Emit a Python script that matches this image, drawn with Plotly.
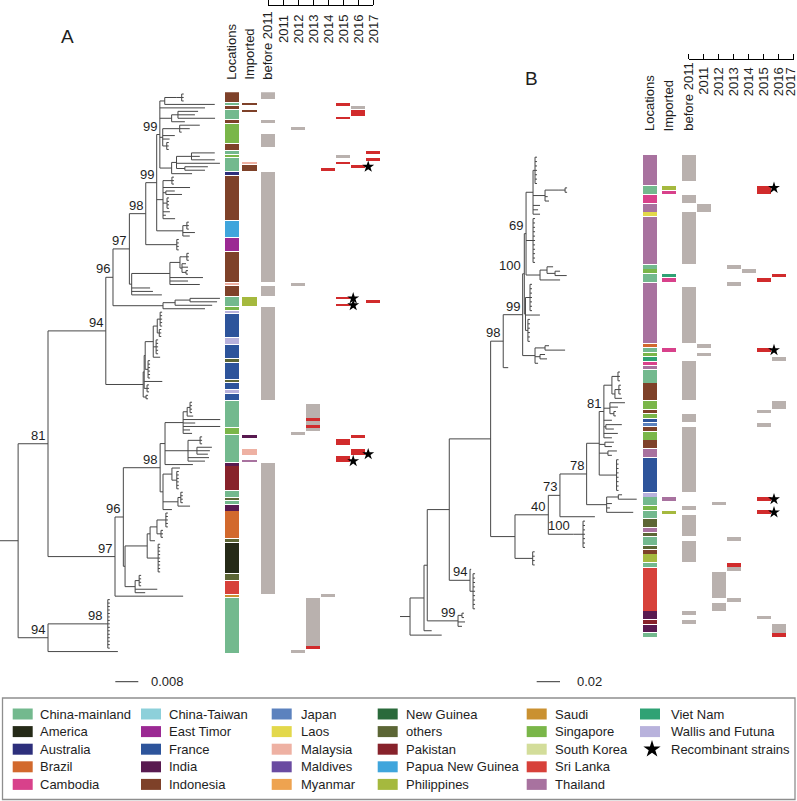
import plotly.graph_objects as go

W, H = 797, 801
FONT = "Liberation Sans, Arial, Helvetica, sans-serif"
TXT = "#1e1e1e"
TREE_COLOR = "#474747"

# ---------------- legend / colours ----------------
LEGEND_NAMES = ["China-mainland", "America", "Australia", "Brazil", "Cambodia",
                "China-Taiwan", "East Timor", "France", "India", "Indonesia",
                "Japan", "Laos", "Malaysia", "Maldives", "Myanmar",
                "New Guinea", "others", "Pakistan", "Papua New Guinea", "Philippines",
                "Saudi", "Singapore", "South Korea", "Sri Lanka", "Thailand",
                "Viet Nam", "Wallis and Futuna"]
LEGEND_COLORS = ["#73b98e", "#252a17", "#2d2f7b", "#d2692d", "#d8418b",
                 "#8dd0da", "#9b2993", "#2d549b", "#581a50", "#7e4129",
                 "#5c82be", "#e3d84b", "#eeb1a3", "#6a4ba1", "#eea350",
                 "#2a6a3b", "#5c6635", "#87222b", "#3fa5dc", "#a5b93e",
                 "#ca9131", "#7ab649", "#d3dd9a", "#d7413a", "#a8729f",
                 "#2fa274", "#b8b2dc"]
STAR_LABEL = "Recombinant strains"
GRAY = "#b9b1ae"
RED = "#d12b2c"

YEAR_LABELS = ["before 2011", "2011", "2012", "2013", "2014", "2015", "2016", "2017"]
STRIP_LABELS = ["Locations", "Imported"]

# ---------------- panel A data ----------------
A_LOC_NAMES = ["Indonesia", "China-mainland", "Indonesia", "China-mainland", "Indonesia", "Singapore",
               "Indonesia", "China-mainland", "Singapore", "China-mainland", "Australia", "Indonesia",
               "Papua New Guinea", "East Timor", "Indonesia", "Malaysia", "Indonesia", "China-mainland",
               "Singapore", "Wallis and Futuna", "France", "Wallis and Futuna", "France", "others",
               "France", "others", "France", "Wallis and Futuna", "France", "China-mainland",
               "Singapore", "China-mainland", "India", "Pakistan", "China-mainland", "others",
               "China-mainland", "India", "Brazil", "others", "America", "others", "Sri Lanka",
               "Saudi", "China-mainland"]
A_LOC_COUNTS = [3, 1, 1, 3, 1, 6, 2, 1, 1, 4, 1, 13, 5, 4, 9, 1, 3, 3, 1, 1, 7, 2, 4, 1, 5, 1, 2, 1, 2,
                8, 2, 8, 1, 7, 2, 1, 1, 2, 8, 1, 9, 2, 4, 1, 16]
A_IMP_ROWS = [3, 5, 20, 21, 59, 99, 103, 106]
A_IMP_COUNTS = [1, 1, 1, 2, 3, 1, 2, 1]
A_IMP_NAMES = ["Indonesia", "Indonesia", "Malaysia", "Indonesia", "Philippines", "India", "Malaysia", "Thailand"]
# year columns: 0 = before 2011, 1 = 2011 ... 7 = 2017
A_GRAY_COL = [0, 0, 0, 0, 0, 0, 0, 2, 2, 2, 2, 3, 3, 4, 5, 6]
A_GRAY_ROW = [0, 8, 12, 23, 56, 62, 107, 10, 55, 98, 161, 90, 146, 145, 18, 4]
A_GRAY_N = [2, 1, 4, 32, 3, 27, 38, 1, 1, 1, 1, 8, 14, 1, 1, 1]
A_RED_COL = [3, 3, 3, 4, 5, 5, 5, 5, 5, 5, 5, 5, 6, 6, 6, 6, 6, 7, 7, 7]
A_RED_ROW = [94, 96, 160, 22, 3, 7, 20, 59, 61, 100, 105, 106, 5, 21, 99, 103, 104, 17, 19, 60]
A_RED_N = [1, 1, 1, 1, 1, 1, 1, 1, 1, 2, 1, 1, 2, 1, 1, 1, 1, 1, 1, 1]
A_STAR_ROW = [21, 59, 61, 104, 106]
A_STAR_COL = [6, 5, 5, 6, 5]

# tree A: node = [branch length (1e-3 subst./site), bootstrap, *children];
# float = single tip; (branch length, n) = tight cluster of n tips
A_N1 = [1.7, None, [4.2, None, (1.7, 3)], 17.4]
A_N2 = [4.1, None, [2.2, None, 7.0, 5.9, 12.9], 4.6]
A_N3 = [1.0, None, [5.9, None, 7.0, 3.5, 0.7], 4.2, 2.4, (1.4, 3)]
A_CMRED = [4.1, None, [1.7, None, [5.2, None, 8.1, 2.9, 8.1], 15.1, [2.9, None, 8.0, 7.0]], 7.1]
A_99U = [1.1, "99", A_N1, 15.7, A_N2, A_N3, A_CMRED]
A_IDN1 = [2.2, None, (3.1, 3), 9.4, [1.0, None, 3.1, 5.6], (1.4, 4), 2.4, 1.0, 4.2]
A_PNG = [9.1, None, (1.4, 3), 4.2, 2.4]
A_99L = [3.8, "99", A_99U, A_IDN1, A_PNG]
A_98 = [5.7, "98", A_99L, (10.8, 4)]
A_IDN2 = [13.3, None, [3.5, None, [1.0, None, (1.4, 3)], [0.7, None, 1.4, 2.1, (1.4, 2)]], 11.5, 6.3, 10.4]
A_L97 = [0.8, None, A_IDN2, 6.4, 7.4, 10.5]
A_97 = [5.7, "97", A_98, A_L97]
A_N163 = [17.4, None, [4.2, None, [5.2, None, 10.4, 9.4], 12.9], 14.6]
A_96 = [2.5, "96", A_97, A_N163]
A_FRA = [13.0, None,
         [0.35, None,
          [0.35, None, [2.8, None, [1.4, None, (1.0, 5), (0.7, 3)], (1.0, 5), 2.4], (1.0, 6)],
          6.3, (1.0, 3)],
         (1.0, 2)]
A_94A = [20.1, "94", A_96, A_FRA]
A_CMC = [1.7, None,
         [6.3, None, [1.4, None, (1.0, 4), 2.1], 12.9, 4.2, 12.9, 2.4, 3.1],
         [8.0, None, (4.2, 3), [3.1, None, 5.2, 4.5, 3.8], 7.3, 5.9],
         9.7]
A_PAK = [1.0, None, [3.1, None, 2.8, (1.7, 6)], [5.2, None, (1.0, 4), 4.2], 3.1]
A_98B = [12.8, "98", A_CMC, A_PAK]
A_BRA = [1.0, None, [2.4, None, [2.1, None, (1.0, 5)], (1.4, 3)], 1.7]
A_N147 = [7.7, None, A_BRA, (3.8, 9)]
A_N135 = [3.5, None, (1.4, 4), 7.7, 3.5]
A_L = [0.6, None, A_N147, A_N135]
A_96B = [2.9, "96", A_98B, A_L]
A_97B = [23.3, "97", A_96B, 23.7]
A_81 = [10.4, "81", A_94A, A_97B]
A_94B = [10.4, "94", [19.8, "98", (1.0, 15)], 24.3]
A_TREE = [6.3, None, A_81, A_94B]
A_SCALE = 8.0          # 0.008
A_SCALE_TEXT = "0.008"

# ---------------- panel B data ----------------
B_LOC_NAMES = ["Thailand", "China-mainland", "Cambodia", "Thailand", "Laos", "Thailand", "China-mainland",
               "Singapore", "China-mainland", "Thailand", "Brazil", "China-mainland", "Singapore", "Viet Nam",
               "Cambodia", "Thailand", "China-mainland", "Indonesia", "Singapore", "Indonesia", "Singapore",
               "France", "Japan", "Indonesia", "Singapore", "Indonesia", "Thailand", "France",
               "Wallis and Futuna", "China-mainland", "Singapore", "China-mainland", "others", "Thailand",
               "others", "China-mainland", "others", "Indonesia", "Philippines", "China-mainland",
               "Sri Lanka", "India", "Pakistan", "India", "China-mainland"]
B_LOC_COUNTS = [7, 2, 2, 2, 1, 11, 1, 1, 2, 14, 1, 1, 1, 1, 1, 1, 3, 4, 2, 1, 1, 1, 1, 1, 2, 2, 2, 8, 1,
                2, 1, 2, 2, 1, 1, 2, 1, 1, 2, 1, 10, 2, 1, 2, 1]
B_IMP_ROWS = [7, 8, 27, 28, 44, 78, 81]
B_IMP_COUNTS = [1, 1, 1, 1, 1, 1, 1]
B_IMP_NAMES = ["Philippines", "Cambodia", "Viet Nam", "Cambodia", "Cambodia", "Thailand", "Philippines"]
B_GRAY_COL = [0, 0, 0, 0, 0, 0, 0, 0, 0, 0, 0, 0, 1, 1, 1, 2, 2, 2, 3, 3, 3, 3, 3, 4, 5, 5, 5, 6, 6, 6]
B_GRAY_ROW = [0, 9, 13, 30, 47, 59, 62, 80, 82, 88, 104, 106, 11, 43, 45, 79, 95, 102, 25, 29, 87, 94, 101,
              26, 58, 61, 105, 46, 56, 107]
B_GRAY_N = [6, 2, 12, 13, 9, 2, 15, 1, 5, 5, 1, 1, 2, 1, 1, 1, 6, 2, 1, 1, 1, 1, 1, 1, 1, 1, 1, 1, 2, 2]
B_RED_COL = [3, 5, 5, 5, 5, 5, 5, 6, 6]
B_RED_ROW = [93, 7, 8, 28, 44, 78, 81, 27, 109]
B_RED_N = [1, 1, 1, 1, 1, 1, 1, 1, 1]
B_STAR_ROW = [7, 44, 78, 81]
B_STAR_COL = [5, 5, 5, 5]

B_NT = [6.0, None, (1.7, 7), [10.3, None, [11.2, None, (6.0, 2)], 2.3, 3.4], 6.0, 4.3, 6.0]
B_LADDER1 = [12.0, None, [6.0, None, 5.2, [6.9, None, 4.3, 10.0]], 17.2]
B_69 = [1.5, "69", B_NT, (6.0, 11), B_LADDER1]
B_N525 = [1.0, None, (3.9, 7), 12.4, (2.1, 6)]
B_100 = [1.4, "100", B_69, B_N525]
B_LADDER2 = [10.6, None, [8.6, None, 3.4, 17.2], [4.3, None, 4.3, 6.0], 2.6]
B_99 = [16.7, "99", B_100, B_LADDER2]
B_98 = [10.8, "98", B_99, 4.3]
B_81 = [4.0, "81", [6.9, None, (5.2, 3), [2.6, None, (3.4, 3), 6.0]], [5.2, None, 12.9, 6.9, (3.4, 2)],
        6.9, [1.7, None, 13.7, 6.9], 12.0, 6.9]
B_N598 = [10.8, None, B_81, [4.9, None, 7.7, 6.0], [7.5, None, 7.7, 3.4], (14.9, 8)]
B_N607 = [17.2, None, [10.0, None, 3.2, 15.8], 4.5, 2.8, 22.8]
B_78 = [22.9, "78", B_N598, B_N607]
B_73 = [10.0, "73", B_78, 30.0]
B_40 = [28.6, "40", B_73, [21.5, "100", (8.3, 7)]]
B_N515 = [20.9, None, B_40, (15.2, 4)]
B_N490 = [35.5, None, B_98, B_N515]
B_94 = [17.8, "94", 1.0, (2.6, 9)]
B_N449 = [18.9, None, B_N490, B_94]
B_99B = [26.4, "99", (3.4, 2), 6.0, 3.4]
B_N427 = [2.8, None, B_N449, B_99B]
B_N424 = [12.0, None, B_N427, 6.6]
B_TREE = [8.6, None, B_N424, 27.2]
B_SCALE = 20.0         # 0.02
B_SCALE_TEXT = "0.02"

# ---------------- layout constants (pixels) ----------------
COL_STEP = 15.0
PANELS = {
    "A": dict(tree_px=(0, 226), px_per_unit=2.875, rows_px=(92.3, 653.3),
              col_px=(218, 392), col0=268.0, loc_px=232.0, imp_px=249.5, strip_w=14.5,
              axis_y=5.0, hdr_bottom=81.7, year_top=13.0, last_shift=0,
              scale_px=115.3, scale_y=681.7, scale_gap=10.5, label_xy=(67.7, 36.7),
              ax=("x", "y", "x2", "x3")),
    "B": dict(tree_px=(400, 640), px_per_unit=1.165, rows_px=(155.0, 637.3),
              col_px=(636, 797), col0=688.8, loc_px=650.0, imp_px=668.9, strip_w=14.5,
              axis_y=59.3, hdr_bottom=133.0, year_top=65.0, last_shift=-3,
              scale_px=536.7, scale_y=681.7, scale_gap=14.5, label_xy=(531.7, 78.0),
              ax=("x4", "y2", "x5", "x6")),
}


def fx(p):
    return p / W


def fy(p):
    return 1 - p / H


def layout_tree(tree, tick):
    xs, ys, labels = [], [], []
    counter = [0]

    def seg(x0, y0, x1, y1):
        xs.extend([x0, x1, None])
        ys.extend([y0, y1, None])

    def walk(node, px):
        if isinstance(node, (int, float)):
            r = counter[0]
            counter[0] += 1
            seg(px, r, px + node, r)
            return r
        if isinstance(node, tuple):
            bl, n = node
            r0 = counter[0]
            counter[0] += n
            x = px + bl
            yc = r0 + (n - 1) / 2
            seg(px, yc, x, yc)
            seg(x, r0, x, r0 + n - 1)
            for r in range(r0, r0 + n):
                seg(x, r, x + tick, r)
            return yc
        bl, label = node[0], node[1]
        kids = node[2:]
        x = px + bl
        cy = [walk(k, x) for k in kids]
        yc = (cy[0] + cy[-1]) / 2
        if len(cy) > 1:
            seg(x, cy[0], x, cy[-1])
        seg(px, yc, x, yc)
        if label:
            labels.append((x, yc, label))
        return yc

    walk(tree, 0.0)
    return xs, ys, labels, counter[0]


COLOR = dict(zip(LEGEND_NAMES, LEGEND_COLORS))
fig = go.Figure()
annotations = []
shapes = []
layout_axes = {}

panel_data = {
    "A": dict(tree=A_TREE, loc_names=A_LOC_NAMES, loc_counts=A_LOC_COUNTS,
              imp_rows=A_IMP_ROWS, imp_counts=A_IMP_COUNTS, imp_names=A_IMP_NAMES,
              gray=(A_GRAY_COL, A_GRAY_ROW, A_GRAY_N), red=(A_RED_COL, A_RED_ROW, A_RED_N),
              stars=(A_STAR_COL, A_STAR_ROW), scale=A_SCALE, scale_text=A_SCALE_TEXT),
    "B": dict(tree=B_TREE, loc_names=B_LOC_NAMES, loc_counts=B_LOC_COUNTS,
              imp_rows=B_IMP_ROWS, imp_counts=B_IMP_COUNTS, imp_names=B_IMP_NAMES,
              gray=(B_GRAY_COL, B_GRAY_ROW, B_GRAY_N), red=(B_RED_COL, B_RED_ROW, B_RED_N),
              stars=(B_STAR_COL, B_STAR_ROW), scale=B_SCALE, scale_text=B_SCALE_TEXT),
}

for key, P in PANELS.items():
    D = panel_data[key]
    xt, yr, xc, xs_ax = P["ax"]
    ppu = P["px_per_unit"]
    nrows = sum(D["loc_counts"])
    pitch = (P["rows_px"][1] - P["rows_px"][0]) / nrows

    # --- tree ---
    txs, tys, labels, ntips = layout_tree(D["tree"], 2.0 / ppu)
    assert ntips == nrows, (key, ntips, nrows)
    fig.add_trace(go.Scatter(x=txs, y=tys, mode="lines", line=dict(color=TREE_COLOR, width=1),
                             xaxis=xt, yaxis=yr, hoverinfo="skip", showlegend=False))
    for (x, y, lab) in labels:
        annotations.append(dict(x=x, y=y, xref=xt, yref=yr, text=lab, showarrow=False,
                                xanchor="right", yanchor="bottom", xshift=-1, yshift=-1,
                                font=dict(size=13, color=TXT, family=FONT)))

    # --- columns ---
    def colx(px):
        return (px - P["col0"]) / COL_STEP

    gap_strip = 0.9 / pitch
    starts, s = [], 0
    for c in D["loc_counts"]:
        starts.append(s)
        s += c
    fig.add_trace(go.Bar(x=[colx(P["loc_px"])] * len(starts),
                         y=[c - gap_strip for c in D["loc_counts"]],
                         base=[st - 0.5 + gap_strip / 2 for st in starts],
                         width=P["strip_w"] / COL_STEP,
                         marker=dict(color=[COLOR[n] for n in D["loc_names"]], line=dict(width=0)),
                         xaxis=xc, yaxis=yr, hoverinfo="skip", showlegend=False))
    fig.add_trace(go.Bar(x=[colx(P["imp_px"])] * len(D["imp_rows"]),
                         y=[c - gap_strip for c in D["imp_counts"]],
                         base=[st - 0.5 + gap_strip / 2 for st in D["imp_rows"]],
                         width=P["strip_w"] / COL_STEP,
                         marker=dict(color=[COLOR[n] for n in D["imp_names"]], line=dict(width=0)),
                         xaxis=xc, yaxis=yr, hoverinfo="skip", showlegend=False))
    gap_bar = 0.6 / pitch
    for (cols, rows, ns), color in ((D["gray"], GRAY), (D["red"], RED)):
        fig.add_trace(go.Bar(x=list(cols), y=[n - gap_bar for n in ns],
                             base=[r - 0.5 + gap_bar / 2 for r in rows],
                             width=14.0 / COL_STEP,
                             marker=dict(color=color, line=dict(width=0)),
                             xaxis=xc, yaxis=yr, hoverinfo="skip", showlegend=False))
    scol, srow = D["stars"]
    fig.add_trace(go.Scatter(x=[c + 0.68 for c in scol], y=list(srow), mode="markers",
                             marker=dict(symbol="star", size=9, color="black", line=dict(width=0)),
                             xaxis=xc, yaxis=yr, hoverinfo="skip", showlegend=False))
    # invisible trace so the year scale axis is drawn
    fig.add_trace(go.Scatter(x=[0], y=[0], mode="markers", marker=dict(opacity=0),
                             xaxis=xs_ax, yaxis=yr, hoverinfo="skip", showlegend=False))

    # headers
    for lab, px in zip(STRIP_LABELS, (P["loc_px"], P["imp_px"])):
        annotations.append(dict(x=colx(px), y=fy(P["hdr_bottom"]), xref=xc, yref="paper", text=lab,
                                showarrow=False, textangle=-90, xanchor="center", yanchor="bottom",
                                font=dict(size=13, color=TXT, family=FONT)))
    for i, lab in enumerate(YEAR_LABELS):
        if i == 0:
            yy, ya = fy(P["hdr_bottom"]), "bottom"
        else:
            yy, ya = fy(P["year_top"]), "top"
        annotations.append(dict(x=i, y=yy, xref=xs_ax, yref="paper", text=lab, showarrow=False,
                                textangle=-90, xanchor="center", yanchor=ya,
                                xshift=P["last_shift"] if i == len(YEAR_LABELS) - 1 else 0,
                                font=dict(size=13, color=TXT, family=FONT)))

    # scale bar
    sx0 = (P["scale_px"] - P["tree_px"][0]) / ppu
    shapes.append(dict(type="line", xref=xt, yref="paper", x0=sx0, x1=sx0 + D["scale"],
                       y0=fy(P["scale_y"]), y1=fy(P["scale_y"]), line=dict(color="#333", width=1)))
    annotations.append(dict(x=sx0 + D["scale"] + P["scale_gap"] / ppu, y=fy(P["scale_y"]), xref=xt,
                            yref="paper", text=D["scale_text"], showarrow=False, xanchor="left",
                            yanchor="middle", font=dict(size=13, color=TXT, family=FONT)))
    # panel letter
    lx, ly = P["label_xy"]
    annotations.append(dict(x=fx(lx), y=fy(ly), xref="paper", yref="paper", text=key, showarrow=False,
                            xanchor="center", yanchor="middle", font=dict(size=19, color=TXT, family=FONT)))

    # axes
    tw = P["tree_px"][1] - P["tree_px"][0]
    hidden = dict(visible=False, showgrid=False, zeroline=False, fixedrange=True)
    layout_axes[("xaxis" + xt[1:]) if xt != "x" else "xaxis"] = dict(
        domain=[fx(P["tree_px"][0]), fx(P["tree_px"][1])], range=[0, tw / ppu], anchor=yr, **hidden)
    layout_axes[("yaxis" + yr[1:]) if yr != "y" else "yaxis"] = dict(
        domain=[fy(P["rows_px"][1]), fy(P["rows_px"][0])], range=[nrows - 0.5, -0.5], anchor=xt, **hidden)
    layout_axes["xaxis" + xc[1:]] = dict(
        domain=[fx(P["col_px"][0]), fx(P["col_px"][1])],
        range=[colx(P["col_px"][0]), colx(P["col_px"][1])], anchor=yr, **hidden)
    layout_axes["xaxis" + xs_ax[1:]] = dict(
        domain=[fx(P["col0"]), fx(P["col0"] + 7 * COL_STEP)], range=[0, 7], anchor="free",
        position=fy(P["axis_y"]), side="top", showline=True, linecolor="black", linewidth=1,
        ticks="outside", ticklen=5, tickwidth=1, tickcolor="black", tickvals=list(range(8)),
        showticklabels=False, showgrid=False, zeroline=False, fixedrange=True)

# ---------------- legend ----------------
LEG_BOX = (2.5, 698.0, 795.0, 799.5)
LEG_SW_X = [12.7, 141.0, 271.7, 377.7, 526.7, 640.0]
LEG_TX_X = [38.3, 166.7, 299.3, 404.0, 553.3, 669.3]
LEG_Y0, LEG_DY = 714.0, 17.6
shapes.append(dict(type="rect", xref="paper", yref="paper", x0=fx(LEG_BOX[0]), x1=fx(LEG_BOX[2]),
                   y0=fy(LEG_BOX[3]), y1=fy(LEG_BOX[1]), line=dict(color="#8e8e8e", width=1.3)))
for i, (name, color) in enumerate(zip(LEGEND_NAMES, LEGEND_COLORS)):
    c, r = divmod(i, 5)
    yc = LEG_Y0 + r * LEG_DY
    shapes.append(dict(type="rect", xref="paper", yref="paper", x0=fx(LEG_SW_X[c]), x1=fx(LEG_SW_X[c] + 20),
                       y0=fy(yc + 5.5), y1=fy(yc - 5.5), fillcolor=color, line=dict(width=0)))
    annotations.append(dict(x=fx(LEG_TX_X[c]), y=fy(yc), xref="paper", yref="paper", text=name,
                            showarrow=False, xanchor="left", yanchor="middle",
                            font=dict(size=13, color=TXT, family=FONT)))
n_leg = len(LEGEND_NAMES)
c, r = divmod(n_leg, 5)
yc = LEG_Y0 + r * LEG_DY
fig.add_trace(go.Scatter(x=[LEG_SW_X[c] + 12], y=[yc], mode="markers",
                         marker=dict(symbol="star", size=13, color="black"),
                         xaxis="x7", yaxis="y3", hoverinfo="skip", showlegend=False))
annotations.append(dict(x=fx(LEG_TX_X[c]), y=fy(yc), xref="paper", yref="paper", text=STAR_LABEL,
                        showarrow=False, xanchor="left", yanchor="middle",
                        font=dict(size=13, color=TXT, family=FONT)))
layout_axes["xaxis7"] = dict(domain=[0, 1], range=[0, W], anchor="y3", visible=False, fixedrange=True)
layout_axes["yaxis3"] = dict(domain=[0, 1], range=[H, 0], anchor="x7", visible=False, fixedrange=True)

fig.update_layout(width=W, height=H, margin=dict(l=0, r=0, t=0, b=0),
                  paper_bgcolor="white", plot_bgcolor="rgba(0,0,0,0)",
                  showlegend=False, barmode="overlay", bargap=0,
                  annotations=annotations, shapes=shapes, font=dict(family=FONT, color=TXT),
                  **layout_axes)
fig.write_html("out.html", config={"displayModeBar": False},
               post_script="document.body.style.margin='0px';")
